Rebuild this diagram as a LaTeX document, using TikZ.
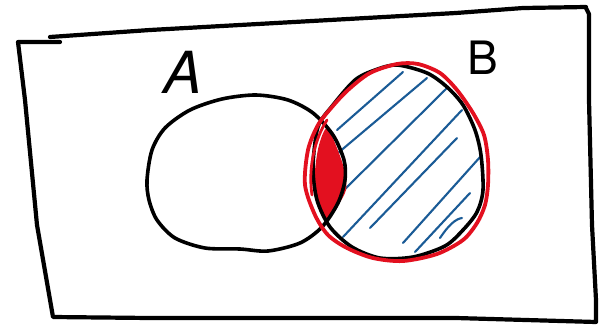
\documentclass[tikz,border=0pt]{standalone}
\usepackage{fontspec}
\setsansfont{TeX Gyre Heros}
\definecolor{penred}{HTML}{E3101F}
\definecolor{penblue}{HTML}{1A5B96}
\tikzset{
  frame/.style={line width=4.2pt, line join=round, line cap=round, black},
  setline/.style={line width=3.6pt, line join=round, line cap=round, black},
  redline/.style={line width=3.8pt, line join=round, line cap=round, penred},
  hatch/.style={line width=2.1pt, line cap=round, penblue},
  letter/.style={inner sep=0pt, font=\sffamily}
}
\begin{document}
\begin{tikzpicture}[x=1pt,y=-1pt]
\useasboundingbox (0,0) rectangle (606,325);
% frame
\draw[frame] (60,42) -- (18,42) -- (25,100) -- (37,225) -- (53,317) -- (150,318) -- (456,318) -- (596,322) -- (596,300) -- (592,225) -- (589,100) -- (589,14) -- (586,8);
\draw[frame] (50,37) -- (150,30) -- (456,13) -- (523,8) -- (586,7);
% hatching of B
\draw[hatch] (337,130) -- (403,72);
\draw[hatch] (338,153) -- (427,78);
\draw[hatch] (337,197) -- (447,88);
\draw[hatch] (343,237) -- (462,110);
\draw[hatch] (370,228) -- (457,138);
\draw[hatch] (403,243) -- (481,156);
\draw[hatch] (415,252) -- (470,193);
\draw[hatch] (440,238) .. controls (448,226) and (455,219) .. (462,218);
% red filled intersection
\fill[penred] plot[smooth cycle] coordinates {(327,128) (337,148) (345,172) (346,190) (338,205) (325,219) (317,200) (315,172) (319,145)};
% set A
\draw[setline] plot[smooth cycle] coordinates {(147,180) (152,150) (165,128) (190,110) (222,99) (256,95) (288,100) (313,113) (333,135) (344,160) (345,180) (338,203) (322,227) (300,243) (268,251) (240,249) (205,248) (175,238) (157,220) (149,200)};
% set B
\draw[setline] plot[smooth cycle] coordinates {(313,167) (318,127) (333,105) (355,80) (375,70) (397,65) (427,73) (447,87) (463,105) (475,130) (481,155) (483,190) (477,212) (463,230) (445,246) (413,257) (380,258) (352,247) (330,227) (317,200)};
% red outline of B
\draw[redline] plot[smooth cycle] coordinates {(305,185) (308,150) (318,125) (332,107) (348,90) (370,73) (397,64) (418,64) (440,73) (457,90) (473,113) (484,135) (488,160) (488,185) (485,205) (477,223) (463,240) (437,254) (403,261) (373,258) (347,248) (328,235) (315,215)};
\draw[redline, line width=2.8pt] (327,120) .. controls (314,140) and (308,170) .. (312,195);
% labels
\node[letter, font=\sffamily\itshape\fontsize{58}{58}\selectfont] (labelA) at (183,72) {A};
\node[letter, font=\sffamily\fontsize{46}{46}\selectfont] (labelB) at (483,58) {B};
\end{tikzpicture}
\end{document}
